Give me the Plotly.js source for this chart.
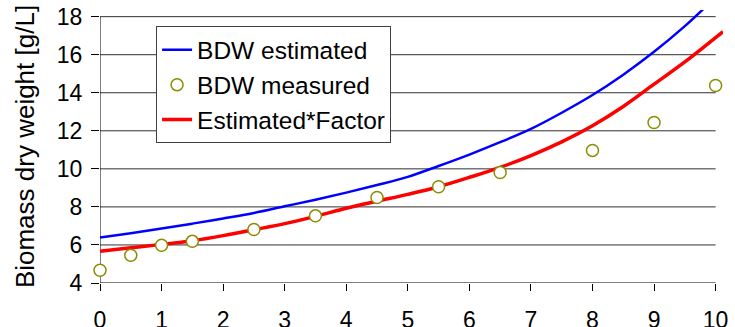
<!DOCTYPE html>
<html>
<head>
<meta charset="utf-8">
<script src="https://cdn.plot.ly/plotly-3.0.1.min.js"></script>
<style>html,body{margin:0;padding:0;background:#fff;}#chart{width:735px;height:327px;}</style>
</head>
<body>
<div id="chart"></div>
<script>
// Data
const estX = [0, 0.5, 1, 1.5, 2, 2.5, 3, 3.5, 4, 4.5, 5, 5.5, 6, 6.5, 7, 7.5, 8, 8.5, 9, 9.5, 9.8];
const estY = [6.39, 6.62, 6.86, 7.12, 7.39, 7.68, 8.03, 8.38, 8.75, 9.15, 9.58, 10.15, 10.75, 11.40, 12.10, 12.95, 13.88, 14.95, 16.15, 17.5, 18.4];

const facX = [0, 0.5, 1, 1.5, 2, 2.5, 3, 3.5, 4, 4.5, 5, 5.5, 6, 6.5, 7, 7.5, 8, 8.5, 9, 9.5, 10, 10.12];
const facY = [5.67, 5.85, 6.03, 6.22, 6.49, 6.80, 7.12, 7.50, 7.93, 8.30, 8.66, 9.06, 9.55, 10.08, 10.70, 11.42, 12.27, 13.28, 14.45, 15.62, 16.90, 17.21];

const measX = [0, 0.5, 1, 1.5, 2.5, 3.5, 4.5, 5.5, 6.5, 8, 9, 10];
const measY = [4.67, 5.46, 5.98, 6.19, 6.81, 7.53, 8.49, 9.06, 9.81, 10.97, 12.44, 14.38];

const xTicks = [0, 1, 2, 3, 4, 5, 6, 7, 8, 9, 10];
const yTicks = [4, 6, 8, 10, 12, 14, 16, 18];

const names = ['BDW estimated', 'BDW measured', 'Estimated*Factor'];
const yTitle = 'Biomass dry weight [g/L]';

const FONT = 'Liberation Sans, Arial, sans-serif';

const traces = [
  {x: estX, y: estY, name: names[0], type: 'scatter', mode: 'lines',
   line: {color: '#0000ff', width: 2.5, shape: 'spline', smoothing: 1}, legendrank: 1},
  {x: facX, y: facY, name: names[2], type: 'scatter', mode: 'lines',
   line: {color: '#ff0000', width: 3.5, shape: 'spline', smoothing: 1}, legendrank: 3},
  {x: measX, y: measY, name: names[1], type: 'scatter', mode: 'markers',
   marker: {symbol: 'circle', size: 12, color: '#ffffff', line: {color: '#8c8c00', width: 1.5}},
   legendrank: 2, cliponaxis: false}
];

const xMin = xTicks[0], xMax = xTicks[xTicks.length - 1];
const yMin = yTicks[0], yMax = yTicks[yTicks.length - 1];

const shapes = [];
yTicks.slice(1).forEach(v => shapes.push({
  type: 'line', xref: 'x', yref: 'y', x0: xMin, x1: xMax, y0: v, y1: v,
  line: {color: '#303030', width: 1}, layer: 'below'
}));
shapes.push({type: 'line', xref: 'x', yref: 'y', x0: xMin, x1: xMin, y0: yMin, y1: yMax,
  line: {color: '#000', width: 1}, layer: 'below'});
shapes.push({type: 'line', xref: 'x', yref: 'y', x0: xMin, x1: xMax, y0: yMin, y1: yMin,
  line: {color: '#000', width: 1}, layer: 'below'});

const layout = {
  width: 735, height: 327,
  margin: {l: 100, r: 12, t: 10, b: 44, pad: 0},
  paper_bgcolor: '#fff', plot_bgcolor: '#fff',
  font: {family: FONT, color: '#000', size: 23},
  showlegend: true,
  legend: {
    x: 0.09, y: 0.94, xanchor: 'left', yanchor: 'top',
    bgcolor: '#fff', bordercolor: '#404040', borderwidth: 1,
    font: {family: FONT, size: 24.5, color: '#000'},
    tracegroupgap: 0
  },
  xaxis: {
    range: [xMin, 10.12], tickvals: xTicks, ticktext: xTicks.map(String),
    ticks: 'outside', ticklen: 7, tickcolor: '#000', tickwidth: 1,
    showgrid: false, zeroline: false, showline: false,
    tickfont: {family: FONT, size: 23, color: '#000'}, ticklabelstandoff: 9,
    fixedrange: true
  },
  yaxis: {
    range: [yMin, 18.35], tickvals: yTicks, ticktext: yTicks.map(String),
    ticks: 'outside', ticklen: 8, tickcolor: '#000', tickwidth: 1,
    showgrid: false, zeroline: false, showline: false,
    tickfont: {family: FONT, size: 23, color: '#000'}, ticklabelstandoff: 4,
    title: {text: yTitle, font: {family: FONT, size: 26, color: '#000'}, standoff: 14},
    automargin: false, fixedrange: true
  },
  shapes: shapes
};

Plotly.newPlot('chart', traces, layout, {displayModeBar: false, staticPlot: true});
</script>
</body>
</html>
